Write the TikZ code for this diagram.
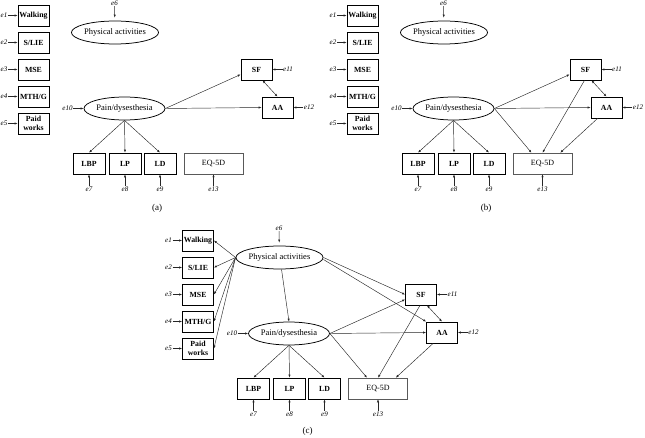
\documentclass[tikz,border=0pt]{standalone}
\usepackage{fontspec}
\setmainfont{Liberation Serif}
\usetikzlibrary{shapes.geometric,arrows.meta,positioning}

\tikzset{
  semtip/.tip={Latex[length=3pt,width=2.2pt]},
  obsbox/.style={draw,line width=0.75pt,minimum width=31pt,minimum height=21pt,inner sep=1pt,
    align=center,font=\fontsize{7.8}{8.5}\selectfont\bfseries},
  eqbox/.style={draw=black!65,line width=0.5pt,minimum width=59pt,minimum height=21pt,
    font=\fontsize{8}{9}\selectfont},
  latvar/.style={ellipse,draw,line width=0.75pt,minimum width=81pt,minimum height=23pt,
    inner sep=0pt,font=\fontsize{8.5}{9}\selectfont},
  errtxt/.style={inner sep=0.5pt,font=\fontsize{7}{8}\selectfont\itshape},
  causal/.style={-semtip,line width=0.45pt,draw=black!85},
  bidir/.style={semtip-semtip,line width=0.45pt,draw=black!85},
  panellab/.style={font=\fontsize{9}{10}\selectfont},
}

% nodes and paths that every panel has
\newcommand{\basepanel}{%
  \node[obsbox] (walk) at (33.5,15.5) {Walking};
  \node[obsbox] (slie) at (33.5,42.5) {S/LIE};
  \node[obsbox] (mse)  at (33.5,69.5) {MSE};
  \node[obsbox] (mth)  at (33.5,96.5) {MTH/G};
  \node[obsbox] (paid) at (33.5,123.5) {Paid\\works};
  \foreach \n/\v/\y in {1/walk/15.5,2/slie/42.5,3/mse/69.5,4/mth/96.5,5/paid/123.5}{
    \node[errtxt] (e\n) at (4,\y) {e\n};
    \draw[causal] (e\n) -- (\v);
  }
  \node[latvar] (phys) at (115,32.5) {Physical activities};
  \node[errtxt] (e6) at (114.5,3) {e6};
  \draw[causal,shorten >=3pt] (e6) -- (phys);
  \node[latvar] (pain) at (124.5,108.5) {Pain/dysesthesia};
  \node[errtxt] (e10) at (67.5,108.5) {e10};
  \draw[causal] (e10) -- (pain);
  \node[obsbox] (sf) at (256.5,69.5) {SF};
  \node[errtxt] (e11) at (288,69.5) {e11};
  \draw[causal] (e11) -- (sf);
  \node[obsbox] (aa) at (277.5,107.5) {AA};
  \node[errtxt] (e12) at (309,107.5) {e12};
  \draw[causal] (e12) -- (aa);
  \node[obsbox,minimum width=32pt] (lbp) at (89,163.5) {LBP};
  \node[obsbox,minimum width=32pt] (lp)  at (125,163.5) {LP};
  \node[obsbox,minimum width=32pt] (ld)  at (160,163.5) {LD};
  \node[eqbox] (eq) at (213.5,163.5) {EQ-5D};
  \foreach \n/\v/\x in {7/lbp/89,8/lp/125,9/ld/160,13/eq/213.5}{
    \node[errtxt] (e\n) at (\x,189) {e\n};
    \draw[causal] (e\n) -- (\v);
  }
  \draw[causal] (pain.south) -- (lbp.north);
  \draw[causal] (pain.south) -- (lp.north);
  \draw[causal] (pain.south) -- (ld.north);
  \draw[causal] (pain.east) -- ([yshift=-5pt]sf.west);
  \draw[causal] (pain.east) -- (aa.west);
  \draw[bidir] ([xshift=6pt]sf.south) -- (aa.north);
}

% paths into EQ-5D, panels (b) and (c)
\newcommand{\eqpaths}{%
  \draw[causal] (pain.east) -- ([xshift=-11pt]eq.north);
  \draw[causal] ([xshift=-1pt]sf.south) -- (eq.north);
  \draw[causal] ([xshift=7pt]aa.south west) -- ([xshift=-12pt]eq.north east);
}

\begin{document}
\begin{tikzpicture}[x=1pt,y=-1pt]
\useasboundingbox (0,0) rectangle (645,438);

% (a)
\begin{scope}[name prefix=a-]
  \basepanel
  \node[panellab] (lab) at (157,208) {(a)};
\end{scope}

% (b)
\begin{scope}[shift={(329,0)},name prefix=b-]
  \basepanel
  \eqpaths
  \node[panellab] (lab) at (157,208) {(b)};
\end{scope}

% (c)
\begin{scope}[shift={(164.5,225)},name prefix=c-]
  \basepanel
  \eqpaths
  \foreach \v in {walk,slie,mse,mth,paid}
    \draw[causal] (phys.west) -- (\v.east);
  \draw[causal] ([xshift=2pt]phys.south) -- (pain.north);
  \draw[causal] (phys.east) -- (sf.west);
  \draw[causal] ([yshift=-2pt]phys.east) -- (aa.north west);
  \node[panellab] (lab) at (143,206) {(c)};
\end{scope}
\end{tikzpicture}
\end{document}
